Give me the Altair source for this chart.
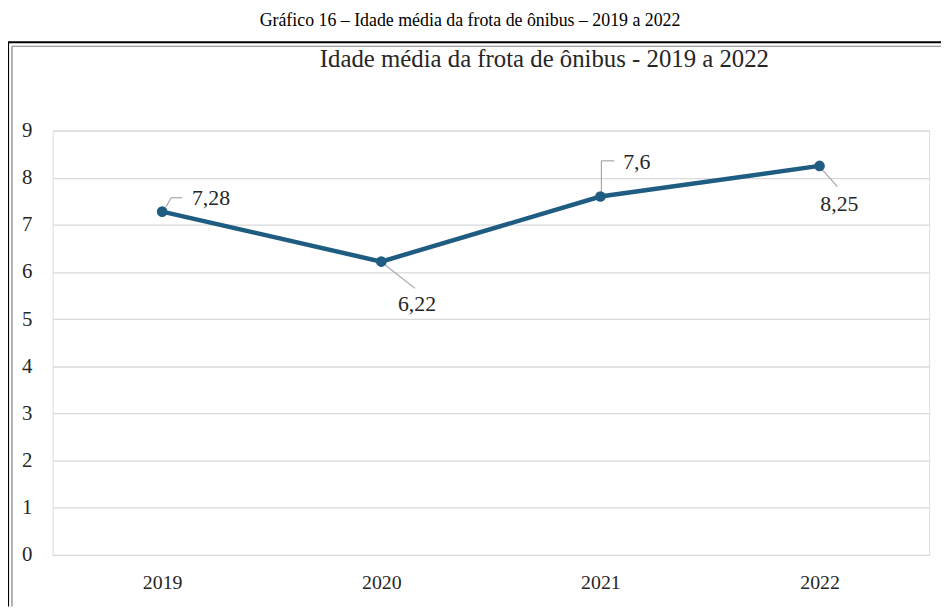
import altair as alt
import pandas as pd

years = ["2019", "2020", "2021", "2022"]
values = [7.28, 6.22, 7.6, 8.25]
labels = ["7,28", "6,22", "7,6", "8,25"]
y_ticks = [0, 1, 2, 3, 4, 5, 6, 7, 8, 9]

caption = "Gráfico 16 – Idade média da frota de ônibus – 2019 a 2022"
chart_title = "Idade média da frota de ônibus - 2019 a 2022"

df = pd.DataFrame({"year": years, "value": values, "label": labels})

W, H = 884, 428
LINE = "#1F5C82"
LEADER = "#A6A6A6"
FONT = "Liberation Serif"

base = alt.Chart(df)
x_enc = alt.X("year:N", sort=years, scale=alt.Scale(type="point", padding=0.5),
              axis=alt.Axis(title=None, labelAngle=0, domain=False, ticks=False, grid=False,
                            labelFont=FONT, labelFontSize=20, labelColor="#262626", labelPadding=18))
y_enc = alt.Y("value:Q", scale=alt.Scale(domain=[0, 9], nice=False),
              axis=alt.Axis(title=None, values=y_ticks, domain=False, ticks=False,
                            gridColor="#D9D9D9", gridWidth=1.3,
                            labelFont=FONT, labelFontSize=21, labelColor="#262626", labelPadding=21))

line = base.mark_line(color=LINE, strokeWidth=4.5).encode(x=x_enc, y=y_enc)
pts = base.mark_circle(color=LINE, size=115, opacity=1).encode(x="year:N", y="value:Q")

def seg(year, xo, yo, x2o, y2o):
    return base.transform_filter(alt.datum.year == year).mark_rule(
        color=LEADER, strokeWidth=1.2, xOffset=xo, yOffset=yo, x2Offset=x2o, y2Offset=y2o
    ).encode(x="year:N", y="value:Q", x2="year:N", y2="value:Q")

leaders = [
    seg("2019", 4, -5, 9, -14),
    seg("2019", 9, -14, 20, -14),
    seg("2020", 2, 2, 34, 27),
    seg("2021", 1, -5, 1, -36),
    seg("2021", 1, -36, 14, -36),
    seg("2022", 2, 3, 18, 21),
]

def lab(year, dx, dy, align):
    return base.transform_filter(alt.datum.year == year).mark_text(
        font=FONT, fontSize=22, color="#262626", dx=dx, dy=dy, align=align, baseline="middle"
    ).encode(x="year:N", y="value:Q", text="label:N")

texts = [
    lab("2019", 30, -14, "left"),
    lab("2020", 36, 43, "center"),
    lab("2021", 23, -35, "left"),
    lab("2022", 20, 39, "center"),
]

one = alt.Data(values=[{"a": 1}])

def rule(x, x2, y, y2, color, w):
    return alt.Chart(one).mark_rule(color=color, strokeWidth=w).encode(
        x=alt.value(x), x2=alt.value(x2), y=alt.value(y), y2=alt.value(y2))

frame = [
    rule(-45, -45, -89, 480, "#000000", 2.2),
    rule(-45, 900, -89, -89, "#000000", 2.2),
    rule(-41, -41, -85, 480, "#7F7F7F", 1.2),
    rule(-41, 900, -85, -85, "#7F7F7F", 1.2),
]

cap = alt.Chart(one).mark_text(font=FONT, fontSize=18, color="#000000", align="center",
                               baseline="alphabetic").encode(
    x=alt.value(421), y=alt.value(-105), text=alt.value(caption))
ttl = alt.Chart(one).mark_text(font=FONT, fontSize=25, color="#262626", align="center",
                               baseline="alphabetic").encode(
    x=alt.value(496), y=alt.value(-64), text=alt.value(chart_title))

chart = alt.layer(line, *leaders, pts, *texts, *frame, cap, ttl).properties(
    width=W, height=H,
    autosize=alt.AutoSizeParams(type="none"),
    padding={"left": 45, "top": 121, "right": 12, "bottom": 52},
).configure_view(stroke=None).configure(background="white")

chart.save("out.html", embed_options={"renderer": "svg", "actions": False})
